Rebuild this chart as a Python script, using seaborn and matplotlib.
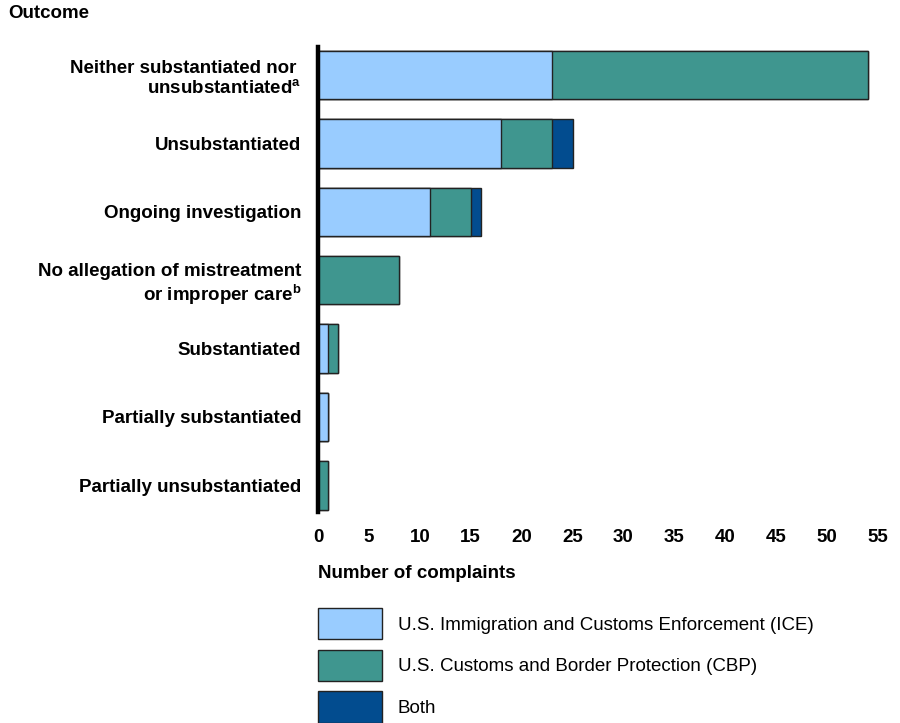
import numpy as np
import pandas as pd
import seaborn as sns
import matplotlib.pyplot as plt
from matplotlib.patches import Patch

# data
outcomes = [
    "Neither substantiated nor \nunsubstantiated$^\\mathregular{a}$",
    "Unsubstantiated",
    "Ongoing investigation",
    "No allegation of mistreatment\nor improper care$^\\mathregular{b}$",
    "Substantiated",
    "Partially substantiated",
    "Partially unsubstantiated",
]
ice = [23, 18, 11, 0, 1, 1, 0]
cbp = [31, 5, 4, 8, 1, 0, 1]
both = [0, 2, 1, 0, 0, 0, 0]
series_names = [
    "U.S. Immigration and Customs Enforcement (ICE)",
    "U.S. Customs and Border Protection (CBP)",
    "Both",
]

ICE_BLUE = "#99CCFF"
CBP_TEAL = "#3F968F"
BOTH_BLUE = "#024C8F"
EDGE = "#222222"

sns.set_style("white")
plt.rcParams['font.family'] = ['Liberation Sans', 'DejaVu Sans']
plt.rcParams['mathtext.default'] = 'regular'
plt.rcParams['text.color'] = 'black'
plt.rcParams['xtick.color'] = 'black'
plt.rcParams['ytick.color'] = 'black'

FS = 13.5

df = pd.DataFrame({'outcome': outcomes, 'ice': ice, 'cbp': cbp, 'both': both})
df['cum_ice'] = df['ice']
df['cum_cbp'] = df['ice'] + df['cbp']
df['cum_both'] = df['cum_cbp'] + df['both']

fig = plt.figure(figsize=(9, 7.23), dpi=100)
ax = fig.add_axes([318 / 900, 1 - 512 / 723, 560 / 900, 465 / 723])

# stacked bars: draw totals first, then overlay the shorter cumulative parts
for col, color in [('cum_both', BOTH_BLUE), ('cum_cbp', CBP_TEAL), ('cum_ice', ICE_BLUE)]:
    sns.barplot(data=df, x=col, y='outcome', color=color, orient='h', width=0.71,
                edgecolor=EDGE, linewidth=1.0, errorbar=None, saturation=1, ax=ax)

ax.set_xlim(0, 55)
ax.set_ylim(6.39, -0.41)
ax.set_xticks(np.arange(0, 56, 5))
ax.set_xlabel('')
ax.set_ylabel('')
for s in ['top', 'right', 'bottom']:
    ax.spines[s].set_visible(False)
ax.spines['left'].set_linewidth(3.2)
ax.spines['left'].set_color('black')
ax.tick_params(axis='y', length=0, pad=12, labelsize=FS)
ax.tick_params(axis='x', length=0, pad=12, labelsize=FS)
for lab in ax.get_yticklabels() + ax.get_xticklabels():
    lab.set_fontweight('bold')

fig.text(8 / 900, 1 - 14 / 723, "Outcome", fontsize=FS, fontweight='bold', va='center', ha='left')
fig.text(318 / 900, 1 - 573 / 723, "Number of complaints", fontsize=FS, fontweight='bold',
         va='center', ha='left')

handles = [Patch(facecolor=c, edgecolor=EDGE, linewidth=1.0) for c in [ICE_BLUE, CBP_TEAL, BOTH_BLUE]]
fig.legend(handles, series_names, loc='upper left', bbox_to_anchor=(318 / 900, 1 - 608 / 723),
           frameon=False, fontsize=FS, borderpad=0, borderaxespad=0, handlelength=3.4,
           handleheight=2.2, labelspacing=0.55, handletextpad=0.85)

fig.savefig('out.png', dpi=100)
